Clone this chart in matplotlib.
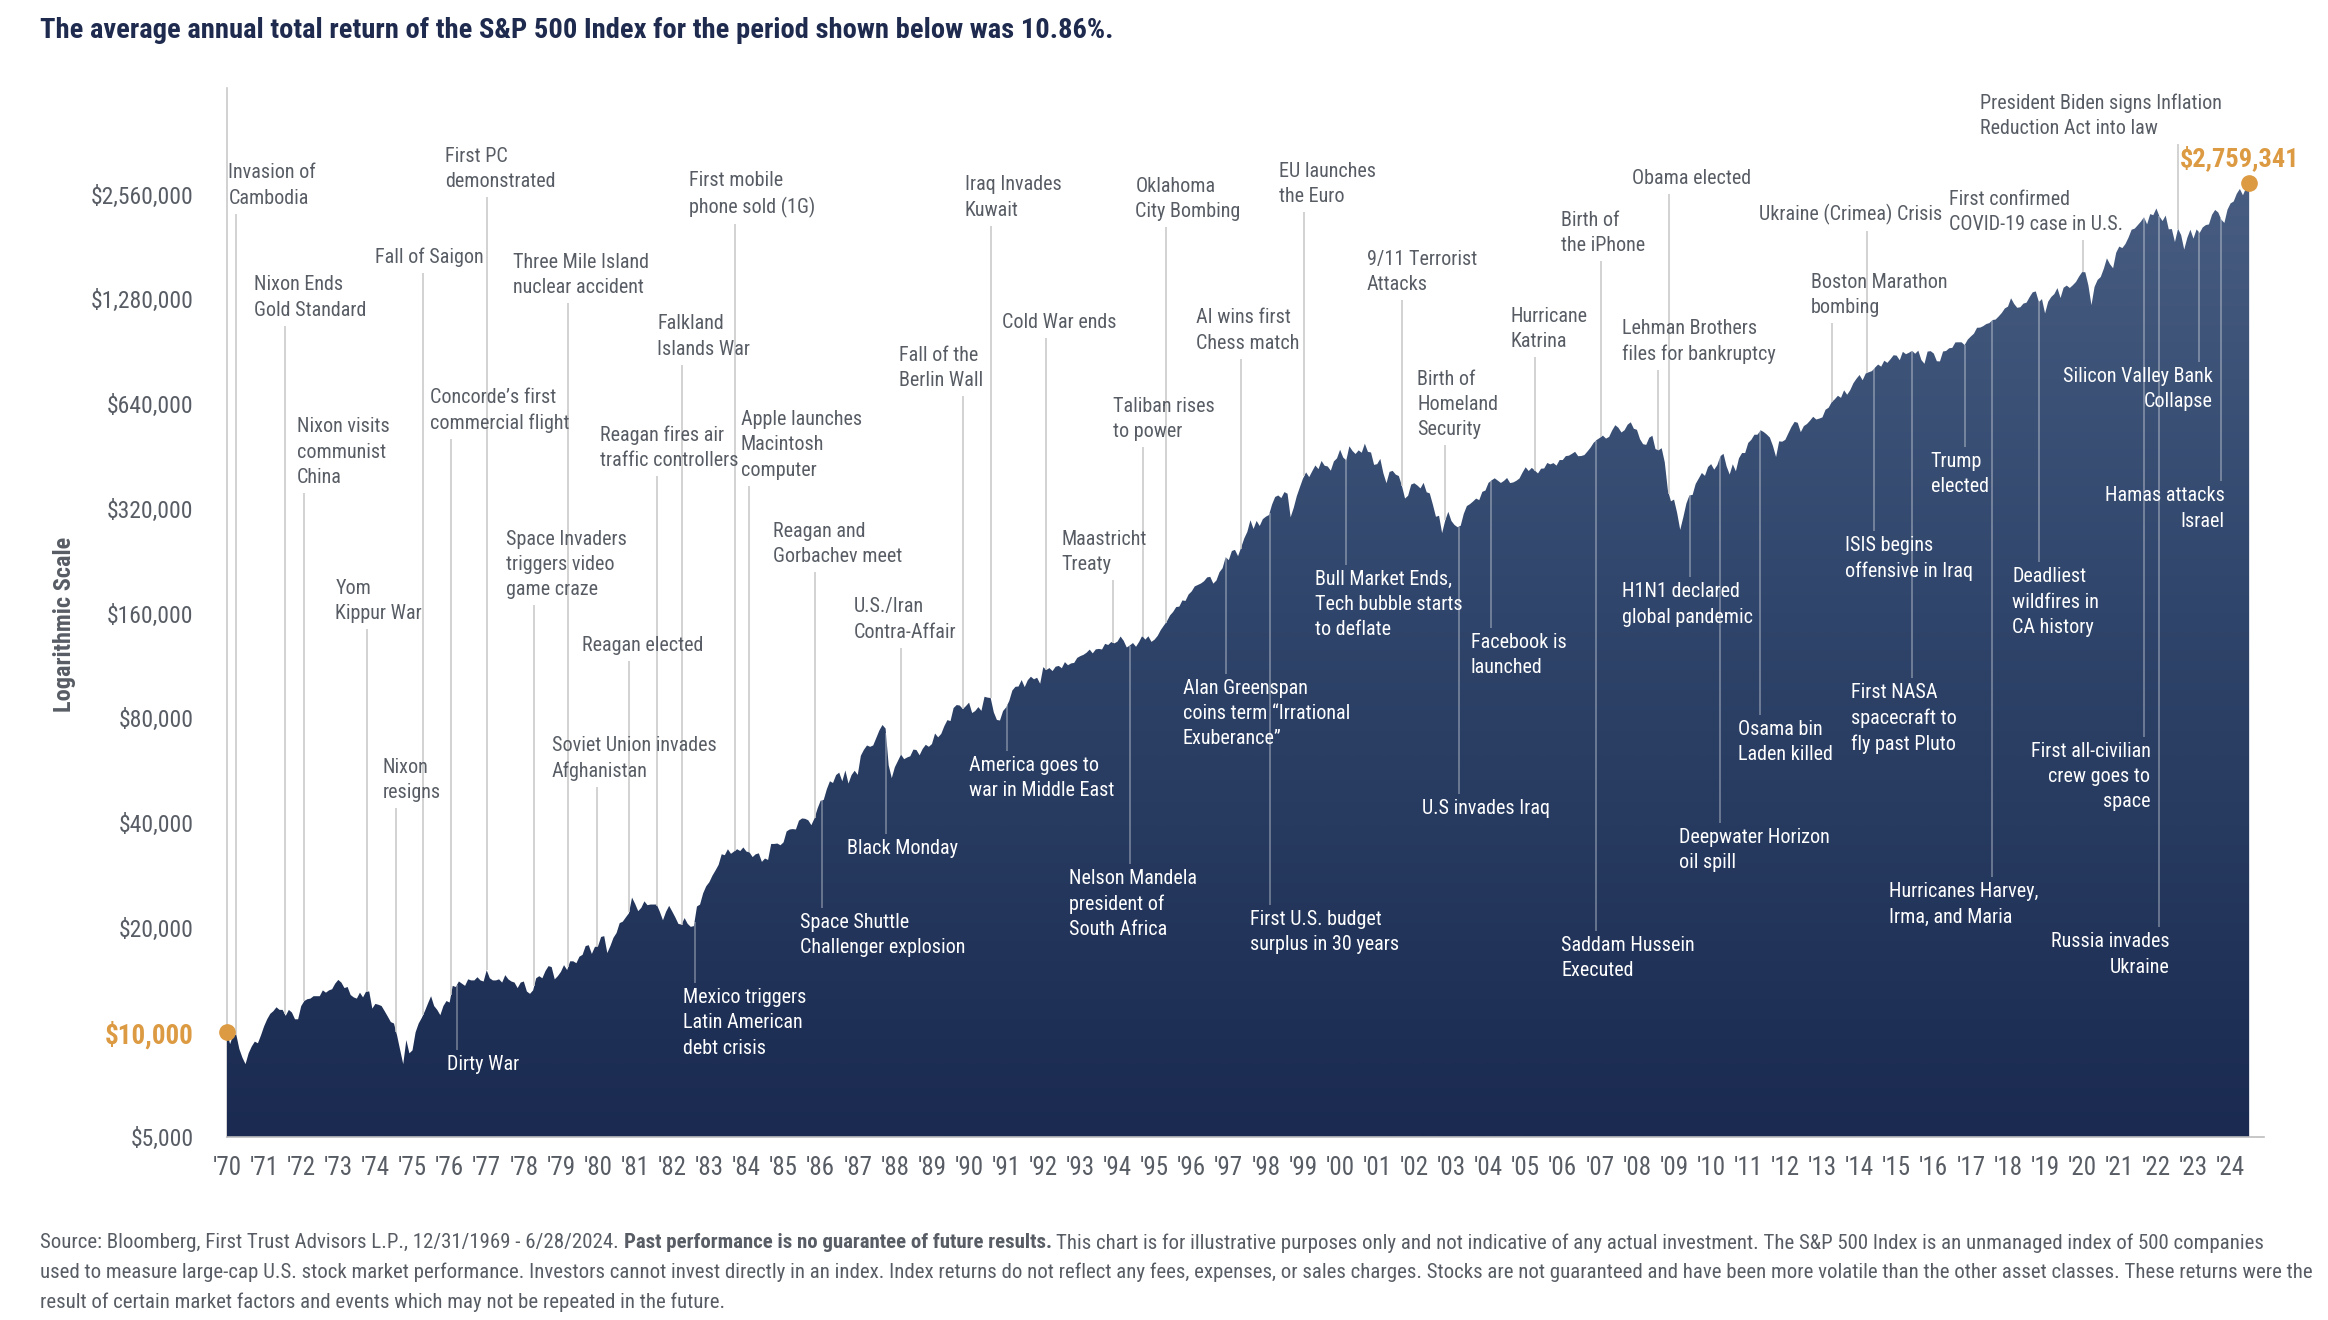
import numpy as np
import matplotlib
matplotlib.use("Agg")
import matplotlib.pyplot as plt
from matplotlib import font_manager
from matplotlib.colors import LinearSegmentedColormap
from matplotlib.image import AxesImage

# growth of $10,000, month-end values, Dec 1969 .. Jun 2024
start_value = 10000
monthly_values = [
    9250, 9800, 9850, 8950, 8450, 8100, 8700, 9100, 9400, 9300, 9800, 10401,            # 1970
    10900, 11300, 11500, 11800, 11600, 11600, 11150, 11600, 11400, 10900, 10900, 11889,  # 1971
    12300, 12450, 12500, 12700, 12700, 12700, 13200, 13000, 13200, 13300, 13800, 14146,  # 1972
    13900, 13400, 13500, 12800, 12600, 12500, 13000, 12600, 13100, 13100, 11700, 12069,  # 1973
    12000, 11900, 11500, 11100, 10700, 10600, 9800, 8900, 8100, 9500, 8700, 8876,        # 1974
    10000, 10600, 11000, 11500, 12100, 12700, 11900, 11600, 11200, 11900, 12300, 12176,  # 1975
    13600, 13500, 14000, 13800, 13600, 14200, 14100, 14100, 14400, 14100, 14000, 15080,  # 1976
    14300, 14100, 14100, 14200, 13900, 14600, 14200, 14000, 13900, 13400, 13900, 13998,  # 1977
    13100, 12900, 13200, 14300, 14500, 14300, 15000, 15500, 15400, 14200, 14500, 14918,  # 1978
    15600, 15100, 16000, 16000, 15800, 16500, 16700, 17700, 17800, 16800, 17600, 17671,  # 1979
    18800, 18900, 16900, 17700, 18700, 19300, 20600, 20800, 21400, 22000, 24400, 23401,  # 1980
    22300, 22800, 23800, 23200, 23300, 23300, 23300, 22200, 21000, 22200, 23100, 22250,  # 1981
    21400, 20500, 20400, 21300, 20500, 20100, 20200, 23000, 23300, 25100, 26300, 27012,  # 1982
    28200, 29200, 30300, 32500, 32300, 33600, 32600, 33100, 33600, 33200, 34000, 33089,  # 1983
    32900, 31900, 32500, 32700, 30900, 31600, 31300, 34800, 34800, 34900, 34500, 35161,  # 1984
    37800, 38300, 38400, 38300, 40600, 41200, 41100, 40700, 39400, 41200, 44000, 46319,  # 1985
    46600, 50000, 52700, 52100, 54900, 55800, 52700, 56600, 51900, 54900, 56500, 54968,  # 1986
    62400, 64900, 66800, 66200, 66800, 70200, 73800, 76500, 74700, 58600, 53800, 57830,  # 1987
    60300, 62900, 61000, 61700, 62200, 65000, 64800, 62600, 65300, 67100, 66200, 67431,  # 1988
    72300, 70500, 72100, 75900, 79000, 78500, 85600, 87300, 87000, 85000, 86700, 88712,  # 1989
    82800, 83900, 86100, 84000, 92200, 91700, 91400, 83200, 79100, 78800, 83900, 85948,  # 1990
    89700, 96100, 98500, 98700, 103000, 98300, 102900, 105300, 103500, 104600, 100500, 112138,  # 1991
    110100, 111500, 109300, 112500, 113100, 111400, 116000, 113600, 115000, 115400, 119300, 120685,  # 1992
    121700, 123400, 126000, 122900, 126200, 126600, 126100, 130900, 129900, 132500, 131300, 132847,  # 1993
    137400, 133600, 127800, 129500, 131600, 128400, 132600, 138000, 134600, 137600, 132600, 134601,  # 1994
    138000, 143400, 147700, 152000, 158000, 161700, 167000, 167500, 174500, 173900, 181500, 185197,  # 1995
    191500, 193300, 195200, 198100, 203200, 204000, 195000, 199100, 210300, 216100, 232400, 227767,  # 1996
    242000, 243900, 233900, 247800, 263000, 274800, 296700, 280100, 295400, 285600, 298800, 303775,  # 1997
    307100, 329300, 346100, 349600, 343600, 357500, 353700, 302600, 322000, 348200, 369300, 390973,  # 1998
    407300, 394700, 410500, 426400, 416300, 439400, 425700, 423600, 412000, 438100, 447000, 473240,  # 1999
    449500, 441000, 484200, 469600, 460000, 471300, 463900, 492700, 466700, 464700, 428100, 430160,  # 2000
    445400, 404800, 379200, 408700, 411400, 401400, 397500, 372600, 342500, 349000, 375800, 379035,  # 2001
    373500, 366300, 380100, 357100, 354400, 329200, 303600, 305600, 272400, 296400, 313800, 295270,  # 2002
    287600, 283300, 286100, 309600, 325900, 330100, 335900, 342500, 338900, 358100, 361200, 379975,  # 2003
    386400, 391700, 385800, 379800, 385000, 392500, 379500, 381100, 385200, 391100, 406900, 421316,  # 2004
    411000, 419700, 412300, 404500, 417400, 418000, 433500, 429600, 433100, 426000, 442100, 442005,  # 2005
    453700, 455000, 460600, 466800, 453400, 454000, 456800, 467700, 479800, 495500, 504900, 511812,  # 2006
    519600, 509400, 515100, 537900, 556700, 547500, 530500, 538500, 558600, 567500, 543800, 539928,  # 2007
    507400, 490900, 488700, 512500, 519100, 475300, 471300, 478100, 435500, 362400, 336400, 340163,  # 2008
    311500, 278300, 302600, 331600, 350100, 350800, 377300, 391100, 405700, 398100, 422000, 430183,  # 2009
    414700, 427500, 453400, 460600, 423800, 401600, 429800, 410400, 447100, 463000, 463000, 494986,  # 2010
    505300, 522600, 522800, 538300, 532200, 523400, 512800, 484900, 451000, 500200, 499100, 505425,  # 2011
    528100, 550900, 569100, 565600, 531600, 553500, 561100, 573800, 588600, 578100, 581500, 586326,  # 2012
    616700, 625000, 648500, 660900, 676400, 667300, 701300, 681000, 702400, 734700, 757100, 776222,  # 2013
    749700, 783900, 790500, 796400, 815000, 831800, 820300, 853100, 841100, 861300, 884600, 882470,  # 2014
    855900, 905100, 890800, 899400, 910900, 893300, 912000, 857000, 835800, 906300, 908900, 894660,  # 2015
    850300, 849100, 906700, 910200, 926500, 928900, 963100, 963800, 963700, 946300, 981300, 1001676,  # 2016
    1020500, 1061000, 1062300, 1072600, 1087700, 1094500, 1117000, 1120400, 1143600, 1170300, 1206200, 1220330,  # 2017
    1290200, 1242600, 1211000, 1215600, 1245300, 1252900, 1299500, 1341900, 1349600, 1257400, 1283000, 1166835,  # 2018
    1260300, 1300800, 1326100, 1379800, 1292100, 1383200, 1403100, 1380900, 1406700, 1437100, 1489300, 1534237,  # 2019
    1532400, 1406300, 1232600, 1390600, 1456800, 1484700, 1568500, 1680100, 1616300, 1573100, 1744000, 1816494,  # 2020
    1798200, 1847800, 1928600, 2031600, 2045800, 2093600, 2143300, 2206900, 2104300, 2251800, 2236200, 2337949,  # 2021
    2216900, 2150600, 2230500, 2036100, 2039800, 1871500, 2044100, 1960800, 1780300, 1924400, 2031000, 1914500,  # 2022
    2034800, 1987700, 2062300, 2094300, 2103400, 2242500, 2314600, 2277600, 2171000, 2124700, 2318700, 2417748,  # 2023
    2447700, 2576700, 2659600, 2550900, 2676400, 2759341,                                                    # 2024
]
values = np.array([start_value] + monthly_values, dtype=float)
dates = 1970 + np.arange(len(values)) / 12.0

y_ticks = [5000, 10000, 20000, 40000, 80000, 160000, 320000, 640000, 1280000, 2560000]
x_years = list(range(1970, 2025))

# (label, event date, text x, text top value, side, alignment)
events = [
    ("Invasion of\nCambodia", 1970.24, 1970.04, 3.15e6, "up", "left"),
    ("Nixon Ends\nGold Standard", 1971.56, 1970.72, 1.50e6, "up", "left"),
    ("Nixon visits\ncommunist\nChina", 1972.08, 1971.88, 5.86e5, "up", "left"),
    ("Yom\nKippur War", 1973.76, 1972.92, 2.01e5, "up", "left"),
    ("Nixon\nresigns", 1974.56, 1974.2, 6.14e4, "up", "left"),
    ("Fall of Saigon", 1975.28, 1974.0, 1.80e6, "up", "left"),
    ("First PC\ndemonstrated", 1977.0, 1975.88, 3.51e6, "up", "left"),
    ("Concorde\u2019s first\ncommercial flight", 1976.04, 1975.48, 7.13e5, "up", "left"),
    ("Three Mile Island\nnuclear accident", 1979.2, 1977.72, 1.746e6, "up", "left"),
    ("Space Invaders\ntriggers video\ngame craze", 1978.28, 1977.52, 2.79e5, "up", "left"),
    ("Reagan elected", 1980.84, 1979.56, 1.38e5, "up", "left"),
    ("Soviet Union invades\nAfghanistan", 1979.96, 1978.76, 7.11e4, "up", "left"),
    ("Reagan fires air\ntraffic controllers", 1981.6, 1980.04, 5.57e5, "up", "left"),
    ("Falkland\nIslands War", 1982.25, 1981.6, 1.16e6, "up", "left"),
    ("First mobile\nphone sold (1G)", 1983.7, 1982.44, 2.995e6, "up", "left"),
    ("Apple launches\nMacintosh\ncomputer", 1984.07, 1983.84, 6.15e5, "up", "left"),
    ("Reagan and\nGorbachev meet", 1985.84, 1984.72, 2.93e5, "up", "left"),
    ("U.S./Iran\nContra-Affair", 1988.16, 1986.88, 1.78e5, "up", "left"),
    ("Fall of the\nBerlin Wall", 1989.84, 1988.12, 9.43e5, "up", "left"),
    ("Iraq Invades\nKuwait", 1990.58, 1989.88, 2.91e6, "up", "left"),
    ("Cold War ends", 1992.08, 1990.88, 1.171e6, "up", "left"),
    ("Maastricht\nTreaty", 1993.88, 1992.48, 2.79e5, "up", "left"),
    ("Taliban rises\nto power", 1994.7, 1993.88, 6.72e5, "up", "left"),
    ("Oklahoma\nCity Bombing", 1995.3, 1994.48, 2.88e6, "up", "left"),
    ("AI wins first\nChess match", 1997.32, 1996.12, 1.207e6, "up", "left"),
    ("EU launches\nthe Euro", 1999.04, 1998.36, 3.18e6, "up", "left"),
    ("9/11 Terrorist\nAttacks", 2001.67, 2000.72, 1.78e6, "up", "left"),
    ("Birth of\nHomeland\nSecurity", 2002.84, 2002.08, 8.03e5, "up", "left"),
    ("Hurricane\nKatrina", 2005.26, 2004.6, 1.218e6, "up", "left"),
    ("Birth of\nthe iPhone", 2007.04, 2005.96, 2.30e6, "up", "left"),
    ("Obama elected", 2008.86, 2007.88, 3.03e6, "up", "left"),
    ("Lehman Brothers\nfiles for bankruptcy", 2008.58, 2007.6, 1.127e6, "up", "left"),
    ("Ukraine (Crimea) Crisis", 2014.2, 2011.28, 2.41e6, "up", "left"),
    ("Boston Marathon\nbombing", 2013.26, 2012.68, 1.528e6, "up", "left"),
    ("First confirmed\nCOVID-19 case in U.S.", 2020.03, 2016.4, 2.64e6, "up", "left"),
    ("President Biden signs Inflation\nReduction Act into law", 2022.58, 2017.24, 5.0e6, "up", "left"),
    ("Dirty War", 1976.2, 1975.92, 8.63e3, "down", "left"),
    ("Mexico triggers\nLatin American\ndebt crisis", 1982.6, 1982.28, 1.34e4, "down", "left"),
    ("Space Shuttle\nChallenger explosion", 1986.04, 1985.44, 2.21e4, "down", "left"),
    ("Black Monday", 1987.76, 1986.72, 3.59e4, "down", "left"),
    ("America goes to\nwar in Middle East", 1991.03, 1990.0, 6.24e4, "down", "left"),
    ("Nelson Mandela\npresident of\nSouth Africa", 1994.33, 1992.68, 2.95e4, "down", "left"),
    ("Alan Greenspan\ncoins term \u201cIrrational\nExuberance\u201d", 1996.92, 1995.76, 1.04e5, "down", "left"),
    ("First U.S. budget\nsurplus in 30 years", 1998.1, 1997.56, 2.25e4, "down", "left"),
    ("Bull Market Ends,\nTech bubble starts\nto deflate", 2000.17, 1999.32, 2.14e5, "down", "left"),
    ("U.S invades Iraq", 2003.2, 2002.2, 4.68e4, "down", "left"),
    ("Facebook is\nlaunched", 2004.06, 2003.52, 1.41e5, "down", "left"),
    ("Saddam Hussein\nExecuted", 2006.9, 2005.96, 1.89e4, "down", "left"),
    ("H1N1 declared\nglobal pandemic", 2009.43, 2007.6, 1.966e5, "down", "left"),
    ("Deepwater Horizon\noil spill", 2010.25, 2009.12, 3.88e4, "down", "left"),
    ("Osama bin\nLaden killed", 2011.32, 2010.72, 7.92e4, "down", "left"),
    ("ISIS begins\noffensive in Iraq", 2014.4, 2013.6, 2.68e5, "down", "left"),
    ("First NASA\nspacecraft to\nfly past Pluto", 2015.42, 2013.76, 1.01e5, "down", "left"),
    ("Trump\nelected", 2016.84, 2015.92, 4.67e5, "down", "left"),
    ("Hurricanes Harvey,\nIrma, and Maria", 2017.58, 2014.8, 2.70e4, "down", "left"),
    ("Deadliest\nwildfires in\nCA history", 2018.84, 2018.12, 2.17e5, "down", "left"),
    ("Silicon Valley Bank\nCollapse", 2023.15, 2023.52, 8.18e5, "down", "right"),
    ("Hamas attacks\nIsrael", 2023.73, 2023.84, 3.71e5, "down", "right"),
    ("First all-civilian\ncrew goes to\nspace", 2021.67, 2021.84, 6.84e4, "down", "right"),
    ("Russia invades\nUkraine", 2022.08, 2022.36, 1.94e4, "down", "right"),
]

title = "The average annual total return of the S&P 500 Index for the period shown below was 10.86%."
footer_lines = [
    ["Source: Bloomberg, First Trust Advisors L.P., 12/31/1969 - 6/28/2024.",
     "Past performance is no guarantee of future results.",
     "This chart is for illustrative purposes only and not indicative of any actual investment. The S&P 500 Index is an unmanaged index of 500 companies"],
    ["used to measure large-cap U.S. stock market performance. Investors cannot invest directly in an index. Index returns do not reflect any fees, expenses, or sales charges. Stocks are not guaranteed and have been more volatile than the other asset classes. These returns were the"],
    ["result of certain market factors and events which may not be repeated in the future."],
]


def pick_font():
    fonts = font_manager.fontManager.ttflist
    names = {f.name for f in fonts}
    for cand in ["Roboto Condensed", "Open Sans Condensed", "Liberation Sans Narrow",
                 "Noto Sans Condensed", "DejaVu Sans Condensed"]:
        if cand in names:
            return cand, "normal"
    for f in fonts:
        if "condensed" in str(f.stretch).lower():
            return f.name, "condensed"
    return "Liberation Sans", "normal"


FONT, STRETCH = pick_font()
plt.rcParams["font.family"] = [FONT, "DejaVu Sans"]
plt.rcParams["font.stretch"] = STRETCH

GRAY = "#585d65"
NAVY = "#1e2a4e"
ORANGE = "#dc9a42"
W, H = 2328, 1320

fig = plt.figure(figsize=(W / 100, H / 100), dpi=100)
fig.patch.set_facecolor("white")
ax = fig.add_axes([227 / W, 1 - 1137 / H, (2264 - 227) / W, (1137 - 88) / H])
ax.set_yscale("log")
ax.set_xlim(1970, 2024.9)
ax.set_ylim(5000, 5.19e6)

# area with vertical gradient
poly = ax.fill_between(dates, 5000, values, facecolor="none", edgecolor="none")
cmap = LinearSegmentedColormap.from_list("navy", ["#1a2a50", "#30456b", "#4d6286"])
grad = np.linspace(0, 1, 512).reshape(-1, 1)
im = AxesImage(ax, cmap=cmap, extent=(0, 1, 0, 1), origin="lower",
               interpolation="bilinear", transform=ax.transAxes)
im.set_data(grad)
im.set_zorder(1)
ax.add_artist(im)
im.set_clip_path(poly.get_paths()[0], transform=ax.transData)

for s in ["top", "right"]:
    ax.spines[s].set_visible(False)
ax.spines["left"].set_color("#c9c9c9")
ax.spines["bottom"].set_color("#bdbdbd")
ax.spines["left"].set_linewidth(1.2)
ax.spines["bottom"].set_linewidth(1.2)
ax.spines["left"].set_zorder(0)

ax.set_yticks(y_ticks)
ax.set_yticklabels(["${:,}".format(v) for v in y_ticks])
ax.yaxis.set_minor_locator(matplotlib.ticker.NullLocator())
ax.set_xticks(x_years)
ax.set_xticklabels(["'" + str(y)[2:] for y in x_years])
ax.tick_params(axis="y", length=0, pad=24, labelsize=17, labelcolor=GRAY)
ax.tick_params(axis="x", length=0, pad=14, labelsize=18, labelcolor=GRAY)
for lab in ax.get_yticklabels():
    if lab.get_text() == "$10,000":
        lab.set_color(ORANGE)
        lab.set_fontweight("bold")
        lab.set_fontsize(19.5)

# start / end markers
ax.plot([dates[0], dates[-1]], [values[0], values[-1]], "o", ms=11, color=ORANGE,
        clip_on=False, zorder=6)
ax.annotate("${:,}".format(int(values[-1])), (dates[-1], values[-1]),
            xytext=(-10, 12), textcoords="offset pixels", ha="center", va="bottom",
            fontsize=19, fontweight="bold", color=ORANGE, zorder=7)

# event labels
texts = []
for label, ev, tx, ty, side, align in events:
    col = GRAY if side == "up" else "white"
    t = ax.text(tx, ty, label, ha=align, va="top", fontsize=14.5, color=col,
                linespacing=1.42, zorder=5, multialignment=align)
    texts.append(t)

fig.canvas.draw()
renderer = fig.canvas.get_renderer()
inv = ax.transData.inverted()
log_vals = np.log10(values)
for (label, ev, tx, ty, side, align), t in zip(events, texts):
    bb = t.get_window_extent(renderer)
    curve = 10 ** np.interp(ev, dates, log_vals)
    ex = ax.transData.transform((ev, curve))[0]
    if side == "up":
        y_end = inv.transform((ex, bb.y0 - 6))[1]
        ax.plot([ev, ev], [y_end, curve], color="#c6c6c6", lw=1.1, zorder=2,
                solid_capstyle="butt")
    else:
        y_end = inv.transform((ex, bb.y1 + 5))[1]
        ax.plot([ev, ev], [curve, y_end], color="white", alpha=0.4, lw=1.1,
                zorder=3, solid_capstyle="butt")

# titles and labels
fig.text(40 / W, 1 - 30 / H, title, ha="left", va="center", fontsize=20.5,
         fontweight="bold", color=NAVY)
fig.text(64 / W, 1 - 624 / H, "Logarithmic Scale", rotation=90, ha="center",
         va="center", fontsize=17.5, fontweight="bold", color=GRAY)

# footer, fitted to the width of the chart
probe = fig.text(0, 0, footer_lines[1][0], fontsize=10, color=GRAY)
fsize = 10.0
for _ in range(4):
    probe.set_fontsize(fsize)
    fsize = fsize * 2272 / probe.get_window_extent(renderer).width
probe.remove()
sp = fig.text(0, 0, "a a", fontsize=fsize)
sp2 = fig.text(0, 0, "aa", fontsize=fsize)
space_w = sp.get_window_extent(renderer).width - sp2.get_window_extent(renderer).width
sp.remove()
sp2.remove()
for i, (segs, yc) in enumerate(zip(footer_lines, [1243, 1272, 1302])):
    x = 40
    for j, seg in enumerate(segs):
        bold = (i == 0 and j == 1)
        t = fig.text(x / W, 1 - yc / H, seg, ha="left", va="center", fontsize=fsize,
                     color=GRAY, fontweight="bold" if bold else "normal")
        x += t.get_window_extent(renderer).width + space_w

fig.savefig("out.png", dpi=100, facecolor="white")
